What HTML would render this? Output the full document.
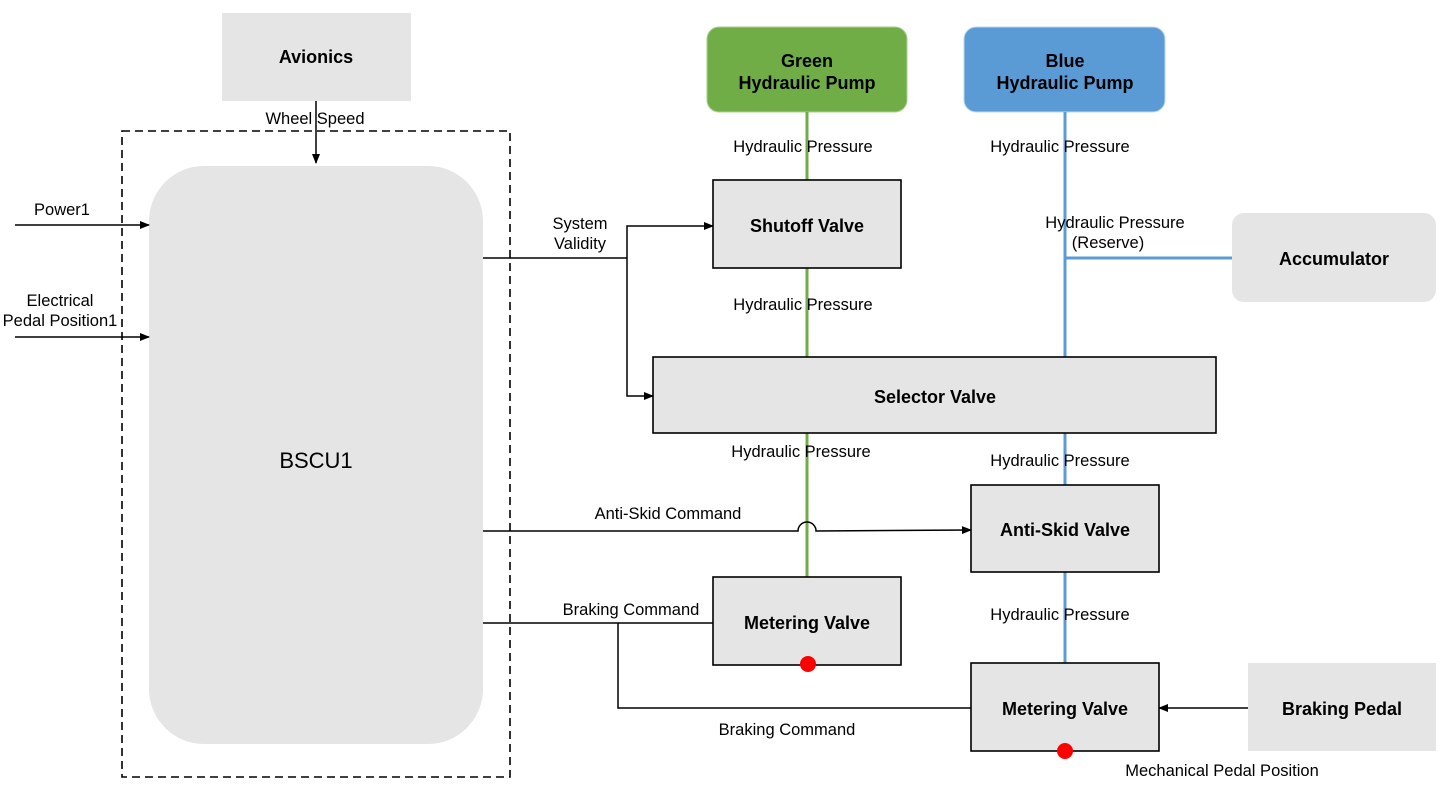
<!DOCTYPE html>
<html><head><meta charset="utf-8"><style>
html,body{margin:0;padding:0;background:#fff;}
svg{display:block;}
text{font-family:"Liberation Sans",Arial,sans-serif;font-size:16.5px;fill:#000;text-anchor:middle;}
.b{font-weight:bold;font-size:18px;}
</style></head><body>
<svg width="1443" height="792" viewBox="0 0 1443 792" xmlns="http://www.w3.org/2000/svg">
<defs><marker id="a" markerWidth="10" markerHeight="8" refX="9" refY="4" orient="auto" markerUnits="userSpaceOnUse"><path d="M0,0 L10,4 L0,8 z" fill="#000"/></marker></defs>
<rect x="222" y="13" width="189" height="88" fill="#e6e5e6"/>
<text x="316" y="63" class="b">Avionics</text>
<text x="315" y="124">Wheel Speed</text>
<line x1="316" y1="101" x2="316" y2="163" stroke="#000" stroke-width="1.5" marker-end="url(#a)"/>
<rect x="122" y="131" width="388" height="646" fill="none" stroke="#000" stroke-width="1.6" stroke-dasharray="8,5"/>
<rect x="149" y="166" width="334" height="578" rx="55" fill="#e6e5e6"/>
<text x="316" y="468" style="font-size:22px">BSCU1</text>
<text x="62" y="215">Power1</text>
<line x1="15" y1="225" x2="149" y2="225" stroke="#000" stroke-width="1.5" marker-end="url(#a)"/>
<text x="60" y="306">Electrical</text>
<text x="60" y="326">Pedal Position1</text>
<line x1="15" y1="337" x2="149" y2="337" stroke="#000" stroke-width="1.5" marker-end="url(#a)"/>
<rect x="707" y="27" width="200" height="85" rx="12" fill="#70ad47" stroke="#a9d18e"/>
<text x="807" y="67" class="b">Green</text><text x="807" y="89" class="b">Hydraulic Pump</text>
<rect x="964" y="27" width="201" height="85" rx="12" fill="#5b9bd5" stroke="#bdd7ee"/>
<text x="1065" y="67" class="b">Blue</text><text x="1065" y="89" class="b">Hydraulic Pump</text>
<g stroke="#70ad47" stroke-width="3">
<line x1="807" y1="112" x2="807" y2="180"/><line x1="807" y1="268" x2="807" y2="357"/><line x1="807" y1="433" x2="807" y2="577"/>
</g>
<g stroke="#5b9bd5" stroke-width="3">
<line x1="1065" y1="112" x2="1065" y2="357"/><line x1="1065" y1="258" x2="1233" y2="258"/>
<line x1="1065" y1="433" x2="1065" y2="485"/><line x1="1065" y1="572" x2="1065" y2="663"/>
</g>
<text x="803" y="152">Hydraulic Pressure</text>
<text x="1060" y="152">Hydraulic Pressure</text>
<text x="803" y="310">Hydraulic Pressure</text>
<text x="1115" y="228">Hydraulic Pressure</text>
<text x="1108" y="248">(Reserve)</text>
<text x="801" y="457">Hydraulic Pressure</text>
<text x="1060" y="466">Hydraulic Pressure</text>
<text x="1060" y="620">Hydraulic Pressure</text>
<rect x="713" y="180" width="188" height="88" fill="#e6e5e6" stroke="#000" stroke-width="1.6"/>
<text x="807" y="232" class="b">Shutoff Valve</text>
<rect x="1232" y="213" width="204" height="89" rx="12" fill="#e6e5e6"/>
<text x="1334" y="265" class="b">Accumulator</text>
<rect x="653" y="357" width="563" height="76" fill="#e6e5e6" stroke="#000" stroke-width="1.6"/>
<text x="935" y="403" class="b">Selector Valve</text>
<rect x="971" y="485" width="188" height="87" fill="#e6e5e6" stroke="#000" stroke-width="1.6"/>
<text x="1065" y="536" class="b">Anti-Skid Valve</text>
<rect x="713" y="577" width="188" height="88" fill="#e6e5e6" stroke="#000" stroke-width="1.6"/>
<text x="807" y="629" class="b">Metering Valve</text>
<rect x="971" y="663" width="188" height="88" fill="#e6e5e6" stroke="#000" stroke-width="1.6"/>
<text x="1065" y="715" class="b">Metering Valve</text>
<rect x="1248" y="663" width="188" height="88" fill="#e6e5e6"/>
<text x="1342" y="715" class="b">Braking Pedal</text>
<circle cx="808" cy="664" r="8" fill="#f00"/>
<circle cx="1065" cy="751" r="8" fill="#f00"/>
<g stroke="#000" stroke-width="1.5" fill="none">
<polyline points="483,258 627,258"/>
<polyline points="627,258 627,226 713,226" marker-end="url(#a)"/>
<polyline points="627,258 627,396 653,396" marker-end="url(#a)"/>
<path d="M483,531 L798,531 A9,9 0 0 1 816,531 L971,530" marker-end="url(#a)"/>
<polyline points="483,623 713,623"/>
<polyline points="618,623 618,708 971,708"/>
<line x1="1248" y1="708" x2="1159" y2="708" marker-end="url(#a)"/>
</g>
<text x="580" y="229">System</text><text x="580" y="249">Validity</text>
<text x="668" y="519">Anti-Skid Command</text>
<text x="631" y="615">Braking Command</text>
<text x="787" y="735">Braking Command</text>
<text x="1222" y="776">Mechanical Pedal Position</text>
</svg>
</body></html>
